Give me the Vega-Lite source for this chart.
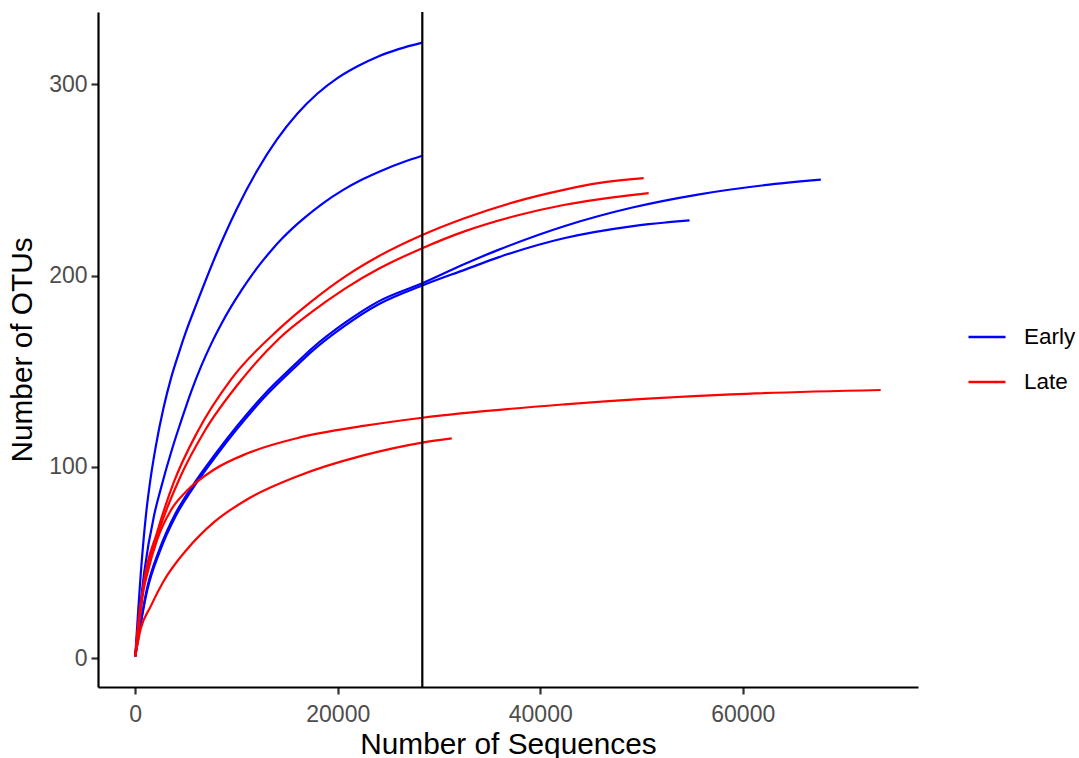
{
  "$schema": "https://vega.github.io/schema/vega-lite/v6.json",
  "width": 820,
  "height": 675,
  "autosize": {"type": "none"},
  "padding": {"left": 98, "top": 12, "right": 161, "bottom": 71},
  "background": "white",
  "config": {
    "view": {"stroke": null},
    "font": "Liberation Sans",
    "axis": {
      "grid": false,
      "domainColor": "black",
      "domainWidth": 2.2,
      "tickColor": "#333333",
      "tickWidth": 2.2,
      "tickSize": 7,
      "labelFont": "Liberation Sans",
      "labelFontSize": 23,
      "labelColor": "#4D4D4D",
      "titleFont": "Liberation Sans",
      "titleFontSize": 29.8,
      "titleFontWeight": "normal",
      "titleColor": "black"
    }
  },
  "layer": [
    {
      "data": {
        "values": [
          {"sample": "E1", "group": "Early", "seqs": 1, "otus": 1},
          {"sample": "E1", "group": "Early", "seqs": 600, "otus": 48},
          {"sample": "E1", "group": "Early", "seqs": 1100, "otus": 77},
          {"sample": "E1", "group": "Early", "seqs": 1500, "otus": 93.5},
          {"sample": "E1", "group": "Early", "seqs": 2036, "otus": 111},
          {"sample": "E1", "group": "Early", "seqs": 2800, "otus": 131},
          {"sample": "E1", "group": "Early", "seqs": 3514, "otus": 146},
          {"sample": "E1", "group": "Early", "seqs": 4335, "otus": 160},
          {"sample": "E1", "group": "Early", "seqs": 5000, "otus": 170.5},
          {"sample": "E1", "group": "Early", "seqs": 6000, "otus": 184.5},
          {"sample": "E1", "group": "Early", "seqs": 8000, "otus": 211.1},
          {"sample": "E1", "group": "Early", "seqs": 10000, "otus": 234.5},
          {"sample": "E1", "group": "Early", "seqs": 12000, "otus": 254.5},
          {"sample": "E1", "group": "Early", "seqs": 14000, "otus": 271.1},
          {"sample": "E1", "group": "Early", "seqs": 16000, "otus": 284.5},
          {"sample": "E1", "group": "Early", "seqs": 18000, "otus": 295.1},
          {"sample": "E1", "group": "Early", "seqs": 20000, "otus": 303.3},
          {"sample": "E1", "group": "Early", "seqs": 22000, "otus": 309.5},
          {"sample": "E1", "group": "Early", "seqs": 24000, "otus": 314.5},
          {"sample": "E1", "group": "Early", "seqs": 26000, "otus": 318.3},
          {"sample": "E1", "group": "Early", "seqs": 28350, "otus": 321.7},

          {"sample": "E2", "group": "Early", "seqs": 1, "otus": 1},
          {"sample": "E2", "group": "Early", "seqs": 887, "otus": 45},
          {"sample": "E2", "group": "Early", "seqs": 1872, "otus": 75},
          {"sample": "E2", "group": "Early", "seqs": 2493, "otus": 88},
          {"sample": "E2", "group": "Early", "seqs": 3675, "otus": 110},
          {"sample": "E2", "group": "Early", "seqs": 4500, "otus": 123.5},
          {"sample": "E2", "group": "Early", "seqs": 5500, "otus": 139},
          {"sample": "E2", "group": "Early", "seqs": 6500, "otus": 152.5},
          {"sample": "E2", "group": "Early", "seqs": 7500, "otus": 164.3},
          {"sample": "E2", "group": "Early", "seqs": 8500, "otus": 174.7},
          {"sample": "E2", "group": "Early", "seqs": 9500, "otus": 184},
          {"sample": "E2", "group": "Early", "seqs": 10500, "otus": 192.4},
          {"sample": "E2", "group": "Early", "seqs": 11500, "otus": 200.1},
          {"sample": "E2", "group": "Early", "seqs": 12500, "otus": 207.1},
          {"sample": "E2", "group": "Early", "seqs": 13500, "otus": 213.5},
          {"sample": "E2", "group": "Early", "seqs": 14500, "otus": 219.3},
          {"sample": "E2", "group": "Early", "seqs": 15500, "otus": 224.5},
          {"sample": "E2", "group": "Early", "seqs": 16500, "otus": 229.2},
          {"sample": "E2", "group": "Early", "seqs": 18500, "otus": 237.6},
          {"sample": "E2", "group": "Early", "seqs": 20500, "otus": 244.6},
          {"sample": "E2", "group": "Early", "seqs": 22500, "otus": 250.4},
          {"sample": "E2", "group": "Early", "seqs": 24500, "otus": 255.2},
          {"sample": "E2", "group": "Early", "seqs": 26500, "otus": 259.3},
          {"sample": "E2", "group": "Early", "seqs": 28350, "otus": 262.6},

          {"sample": "E3", "group": "Early", "seqs": 1, "otus": 1},
          {"sample": "E3", "group": "Early", "seqs": 1182, "otus": 37},
          {"sample": "E3", "group": "Early", "seqs": 2400, "otus": 57},
          {"sample": "E3", "group": "Early", "seqs": 4010, "otus": 76},
          {"sample": "E3", "group": "Early", "seqs": 5645, "otus": 90},
          {"sample": "E3", "group": "Early", "seqs": 7950, "otus": 107},
          {"sample": "E3", "group": "Early", "seqs": 10000, "otus": 121},
          {"sample": "E3", "group": "Early", "seqs": 12680, "otus": 137.5},
          {"sample": "E3", "group": "Early", "seqs": 15960, "otus": 154.5},
          {"sample": "E3", "group": "Early", "seqs": 17470, "otus": 162},
          {"sample": "E3", "group": "Early", "seqs": 20755, "otus": 175.5},
          {"sample": "E3", "group": "Early", "seqs": 24039, "otus": 186.5},
          {"sample": "E3", "group": "Early", "seqs": 28350, "otus": 196},
          {"sample": "E3", "group": "Early", "seqs": 32581, "otus": 206.2},
          {"sample": "E3", "group": "Early", "seqs": 35862, "otus": 213.4},
          {"sample": "E3", "group": "Early", "seqs": 42433, "otus": 225.9},
          {"sample": "E3", "group": "Early", "seqs": 48995, "otus": 235.4},
          {"sample": "E3", "group": "Early", "seqs": 55567, "otus": 242.3},
          {"sample": "E3", "group": "Early", "seqs": 62138, "otus": 247.2},
          {"sample": "E3", "group": "Early", "seqs": 67714, "otus": 250.1},

          {"sample": "E4", "group": "Early", "seqs": 1, "otus": 1},
          {"sample": "E4", "group": "Early", "seqs": 1182, "otus": 35.5},
          {"sample": "E4", "group": "Early", "seqs": 2400, "otus": 55.5},
          {"sample": "E4", "group": "Early", "seqs": 4010, "otus": 74.5},
          {"sample": "E4", "group": "Early", "seqs": 5645, "otus": 88.5},
          {"sample": "E4", "group": "Early", "seqs": 7950, "otus": 105.5},
          {"sample": "E4", "group": "Early", "seqs": 10000, "otus": 119.5},
          {"sample": "E4", "group": "Early", "seqs": 12680, "otus": 136},
          {"sample": "E4", "group": "Early", "seqs": 15960, "otus": 153},
          {"sample": "E4", "group": "Early", "seqs": 17470, "otus": 160.5},
          {"sample": "E4", "group": "Early", "seqs": 20755, "otus": 174},
          {"sample": "E4", "group": "Early", "seqs": 24039, "otus": 185},
          {"sample": "E4", "group": "Early", "seqs": 28350, "otus": 194.8},
          {"sample": "E4", "group": "Early", "seqs": 32581, "otus": 203.1},
          {"sample": "E4", "group": "Early", "seqs": 35862, "otus": 209.5},
          {"sample": "E4", "group": "Early", "seqs": 42433, "otus": 219.6},
          {"sample": "E4", "group": "Early", "seqs": 48995, "otus": 225.7},
          {"sample": "E4", "group": "Early", "seqs": 54746, "otus": 228.8},

          {"sample": "L1", "group": "Late", "seqs": 1, "otus": 1},
          {"sample": "L1", "group": "Late", "seqs": 857, "otus": 40},
          {"sample": "L1", "group": "Late", "seqs": 2167, "otus": 66},
          {"sample": "L1", "group": "Late", "seqs": 3810, "otus": 92},
          {"sample": "L1", "group": "Late", "seqs": 6108, "otus": 118},
          {"sample": "L1", "group": "Late", "seqs": 9500, "otus": 146},
          {"sample": "L1", "group": "Late", "seqs": 14187, "otus": 172},
          {"sample": "L1", "group": "Late", "seqs": 17470, "otus": 186.8},
          {"sample": "L1", "group": "Late", "seqs": 20755, "otus": 199.6},
          {"sample": "L1", "group": "Late", "seqs": 24039, "otus": 210.1},
          {"sample": "L1", "group": "Late", "seqs": 28350, "otus": 221.2},
          {"sample": "L1", "group": "Late", "seqs": 32581, "otus": 230.1},
          {"sample": "L1", "group": "Late", "seqs": 37507, "otus": 238.5},
          {"sample": "L1", "group": "Late", "seqs": 42433, "otus": 244.9},
          {"sample": "L1", "group": "Late", "seqs": 45714, "otus": 248.3},
          {"sample": "L1", "group": "Late", "seqs": 50214, "otus": 250.9},

          {"sample": "L2", "group": "Late", "seqs": 1, "otus": 1},
          {"sample": "L2", "group": "Late", "seqs": 1000, "otus": 42},
          {"sample": "L2", "group": "Late", "seqs": 2300, "otus": 66},
          {"sample": "L2", "group": "Late", "seqs": 4463, "otus": 95},
          {"sample": "L2", "group": "Late", "seqs": 6768, "otus": 118},
          {"sample": "L2", "group": "Late", "seqs": 10571, "otus": 146},
          {"sample": "L2", "group": "Late", "seqs": 14187, "otus": 167},
          {"sample": "L2", "group": "Late", "seqs": 17470, "otus": 181.1},
          {"sample": "L2", "group": "Late", "seqs": 20755, "otus": 193.3},
          {"sample": "L2", "group": "Late", "seqs": 24039, "otus": 203.5},
          {"sample": "L2", "group": "Late", "seqs": 28350, "otus": 214.3},
          {"sample": "L2", "group": "Late", "seqs": 32581, "otus": 223.2},
          {"sample": "L2", "group": "Late", "seqs": 37507, "otus": 231.1},
          {"sample": "L2", "group": "Late", "seqs": 42433, "otus": 237},
          {"sample": "L2", "group": "Late", "seqs": 47360, "otus": 241},
          {"sample": "L2", "group": "Late", "seqs": 50709, "otus": 243.1},

          {"sample": "L3", "group": "Late", "seqs": 1, "otus": 1},
          {"sample": "L3", "group": "Late", "seqs": 364, "otus": 22},
          {"sample": "L3", "group": "Late", "seqs": 1182, "otus": 44},
          {"sample": "L3", "group": "Late", "seqs": 2167, "otus": 62},
          {"sample": "L3", "group": "Late", "seqs": 3478, "otus": 77},
          {"sample": "L3", "group": "Late", "seqs": 5000, "otus": 87},
          {"sample": "L3", "group": "Late", "seqs": 7753, "otus": 98.5},
          {"sample": "L3", "group": "Late", "seqs": 11034, "otus": 107},
          {"sample": "L3", "group": "Late", "seqs": 15960, "otus": 115},
          {"sample": "L3", "group": "Late", "seqs": 22530, "otus": 121.4},
          {"sample": "L3", "group": "Late", "seqs": 28350, "otus": 125.7},
          {"sample": "L3", "group": "Late", "seqs": 42433, "otus": 132.7},
          {"sample": "L3", "group": "Late", "seqs": 58850, "otus": 137.9},
          {"sample": "L3", "group": "Late", "seqs": 73626, "otus": 140.2},

          {"sample": "L4", "group": "Late", "seqs": 1, "otus": 1},
          {"sample": "L4", "group": "Late", "seqs": 522, "otus": 15},
          {"sample": "L4", "group": "Late", "seqs": 1508, "otus": 27},
          {"sample": "L4", "group": "Late", "seqs": 2825, "otus": 40.5},
          {"sample": "L4", "group": "Late", "seqs": 5123, "otus": 57},
          {"sample": "L4", "group": "Late", "seqs": 7753, "otus": 71},
          {"sample": "L4", "group": "Late", "seqs": 11034, "otus": 83},
          {"sample": "L4", "group": "Late", "seqs": 15960, "otus": 95},
          {"sample": "L4", "group": "Late", "seqs": 22530, "otus": 106},
          {"sample": "L4", "group": "Late", "seqs": 28350, "otus": 112.7},
          {"sample": "L4", "group": "Late", "seqs": 31261, "otus": 114.9}
        ]
      },
      "mark": {"type": "line", "strokeWidth": 2.2, "interpolate": "monotone"},
      "encoding": {
        "x": {
          "field": "seqs",
          "type": "quantitative",
          "scale": {"domain": [-3680, 77307], "nice": false, "zero": false},
          "axis": {"values": [0, 20000, 40000, 60000], "format": "d", "title": "Number of Sequences", "labelPadding": 9, "titlePadding": 3}
        },
        "y": {
          "field": "otus",
          "type": "quantitative",
          "scale": {"domain": [-15, 337.7], "nice": false, "zero": false},
          "axis": {"values": [0, 100, 200, 300], "format": "d", "title": "Number of OTUs", "labelPadding": 4, "titlePadding": 11}
        },
        "color": {
          "field": "group",
          "type": "nominal",
          "scale": {"domain": ["Early", "Late"], "range": ["#0000FF", "#FF0000"]},
          "legend": {
            "title": null,
            "orient": "none",
            "legendX": 869,
            "legendY": 305,
            "symbolType": "stroke",
            "symbolSize": 1369,
            "symbolStrokeWidth": 2.5,
            "labelFont": "Liberation Sans",
            "labelFontSize": 22.5,
            "labelColor": "black",
            "labelOffset": 17,
            "rowPadding": 13
          }
        },
        "detail": {"field": "sample", "type": "nominal"}
      }
    },
    {
      "data": {"values": [{"depth": 28350}]},
      "mark": {"type": "rule", "color": "black", "strokeWidth": 2.2},
      "encoding": {"x": {"field": "depth", "type": "quantitative"}}
    }
  ]
}
